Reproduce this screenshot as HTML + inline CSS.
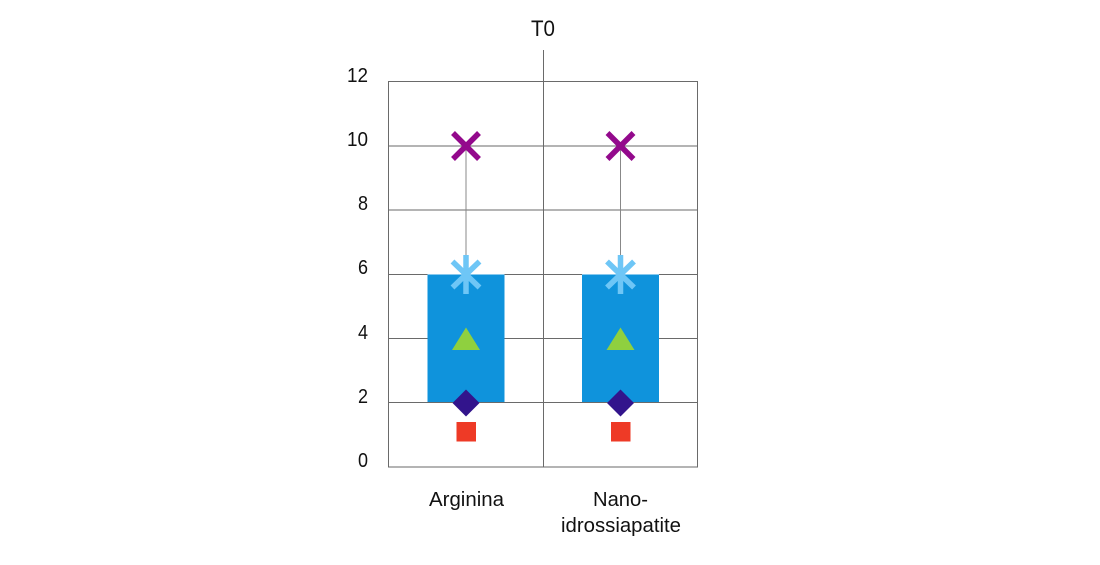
<!DOCTYPE html>
<html><head><meta charset="utf-8">
<style>html,body{margin:0;padding:0;background:#fff;width:1100px;height:565px;overflow:hidden}svg{display:block}text{font-family:"Liberation Sans",sans-serif;fill:#111;font-size:20px}</style>
</head><body>
<svg width="1100" height="565" viewBox="0 0 1100 565" xmlns="http://www.w3.org/2000/svg">
<rect x="427.5" y="274.5" width="77" height="128" fill="#0f93dc"/>
<rect x="582" y="274.5" width="77" height="128" fill="#0f93dc"/>
<g stroke="#6a6a6a" stroke-width="1" fill="none">
<path d="M388.5 81.5H697.5V467H388.5Z"/>
<path d="M389 146H697M389 210H697M389 274.5H427.5M504.5 274.5H582M659 274.5H697M389 338.5H427.5M504.5 338.5H582M659 338.5H697M389 402.5H697"/>
<path d="M543.5 50V467"/>
<path d="M466 146V274M620.5 146V274" stroke="#888"/>
</g>
<g>
<path d="M453 133L479 159M479 133L453 159" stroke="#93098c" stroke-width="5.5" fill="none"/>
<path d="M466 255V294M452.5 261.5L479.5 287.5M479.5 261.5L452.5 287.5" stroke="#6ec6f6" stroke-width="5.5" fill="none"/>
<path d="M466 327.5L480 350H452Z" fill="#8fd03f"/>
<path d="M466 389.5L479.5 403L466 416.5L452.5 403Z" fill="#32148c"/>
<rect x="456.5" y="422" width="19.5" height="19.5" fill="#ee3a26"/>
</g>
<g>
<path d="M607.5 133L633.5 159M633.5 133L607.5 159" stroke="#93098c" stroke-width="5.5" fill="none"/>
<path d="M620.5 255V294M607 261.5L634 287.5M634 261.5L607 287.5" stroke="#6ec6f6" stroke-width="5.5" fill="none"/>
<path d="M620.5 327.5L634.5 350H606.5Z" fill="#8fd03f"/>
<path d="M620.5 389.5L634 403L620.5 416.5L607 403Z" fill="#32148c"/>
<rect x="611" y="422" width="19.5" height="19.5" fill="#ee3a26"/>
</g>
<text x="347" y="82" textLength="21" lengthAdjust="spacingAndGlyphs">12</text>
<text x="347" y="146" textLength="21" lengthAdjust="spacingAndGlyphs">10</text>
<text x="358" y="210" textLength="10" lengthAdjust="spacingAndGlyphs">8</text>
<text x="358" y="274" textLength="10" lengthAdjust="spacingAndGlyphs">6</text>
<text x="358" y="339" textLength="10" lengthAdjust="spacingAndGlyphs">4</text>
<text x="358" y="403" textLength="10" lengthAdjust="spacingAndGlyphs">2</text>
<text x="358" y="467" textLength="10" lengthAdjust="spacingAndGlyphs">0</text>
<text x="531" y="36" textLength="24" lengthAdjust="spacingAndGlyphs" style="font-size:22px">T0</text>
<text x="429" y="506" textLength="75" lengthAdjust="spacingAndGlyphs">Arginina</text>
<text x="593" y="506" textLength="55" lengthAdjust="spacingAndGlyphs">Nano-</text>
<text x="561" y="532" textLength="120" lengthAdjust="spacingAndGlyphs">idrossiapatite</text>
</svg>
</body></html>
